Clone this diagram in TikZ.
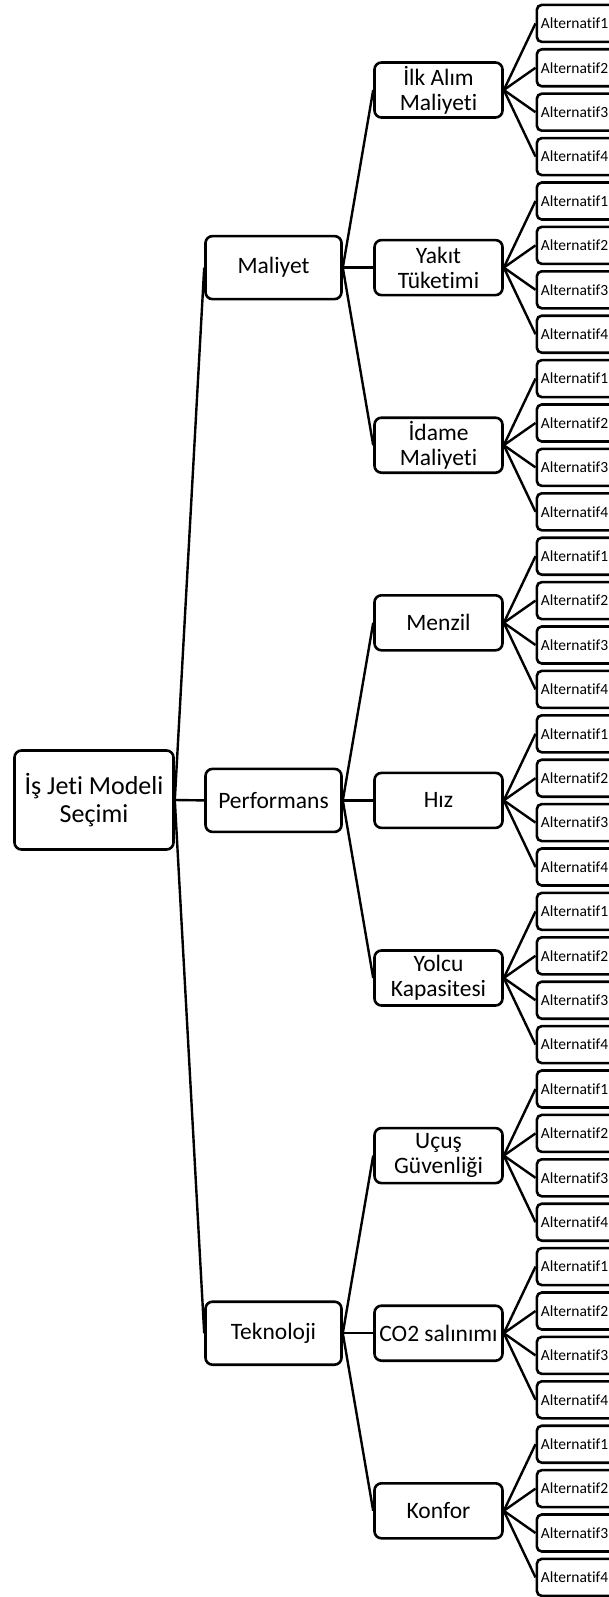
\documentclass[tikz,border=0pt]{standalone}
\usepackage{fontspec}
\setmainfont{Carlito}[Ligatures=NoCommon]
\begin{document}
\begin{tikzpicture}[x=1pt,y=-1pt,
  box/.style={draw=black, line width=2.6pt, rounded corners=7pt, fill=white,
    inner sep=0pt, align=center},
  rootbox/.style={box, minimum width=159pt, minimum height=99pt,
    font=\fontsize{26}{28}\selectfont},
  critbox/.style={box, minimum width=136pt, minimum height=63pt,
    font=\fontsize{23.5}{25}\selectfont},
  subbox/.style={box, minimum width=128pt, minimum height=55pt,
    font=\fontsize{23.5}{25}\selectfont},
  leafbox/.style={box, rounded corners=5pt, anchor=west, minimum height=37pt,
    text width=90pt, inner xsep=4pt, align=left,
    font=\fontsize{15.5}{17}\selectfont},
  link/.style={draw=black, line width=2.4pt}
]
\clip (0,0) rectangle (609,1597);
\useasboundingbox (0,0) rectangle (609,1597);

% goal
\node[rootbox] (root) at (94,800) {İş Jeti Modeli\\Seçimi};

% criteria
\node[critbox] (c1) at (273.5,267.6) {Maliyet};
\node[critbox] (c2) at (273.5,800.4) {Performans};
\node[critbox] (c3) at (273.5,1333.2) {Teknoloji};

% sub-criteria
\def\subx{438.5}
\node[subbox] (s0) at (\subx, 90.0) {İlk Alım\\Maliyeti};
\node[subbox] (s1) at (\subx, 267.6) {Yakıt\\Tüketimi};
\node[subbox] (s2) at (\subx, 445.2) {İdame\\Maliyeti};
\node[subbox] (s3) at (\subx, 622.8) {Menzil};
\node[subbox] (s4) at (\subx, 800.4) {Hız};
\node[subbox] (s5) at (\subx, 978.0) {Yolcu\\Kapasitesi};
\node[subbox] (s6) at (\subx,1155.6) {Uçuş\\Güvenliği};
\node[subbox] (s7) at (\subx,1333.2) {CO2 salınımı};
\node[subbox] (s8) at (\subx,1510.8) {Konfor};

% links goal -> criteria
\foreach \c in {c1,c2,c3}
  \draw[link] (root.east) -- (\c.west);

% links criteria -> sub-criteria
\foreach \s in {s0,s1,s2} \draw[link] (c1.east) -- (\s.west);
\foreach \s in {s3,s4,s5} \draw[link] (c2.east) -- (\s.west);
\foreach \s in {s6,s7,s8} \draw[link] (c3.east) -- (\s.west);

% alternatives under every sub-criterion
\foreach \g in {0,...,8}{
  \foreach \k in {1,...,4}{
    \pgfmathsetmacro{\ly}{90+177.6*\g+44.4*(\k-2.5)}
    \node[leafbox] (a\g-\k) at (535.5,\ly) {Alternatif\k};
    \draw[link] (s\g.east) -- (a\g-\k.west);
  }
}
\end{tikzpicture}
\end{document}
